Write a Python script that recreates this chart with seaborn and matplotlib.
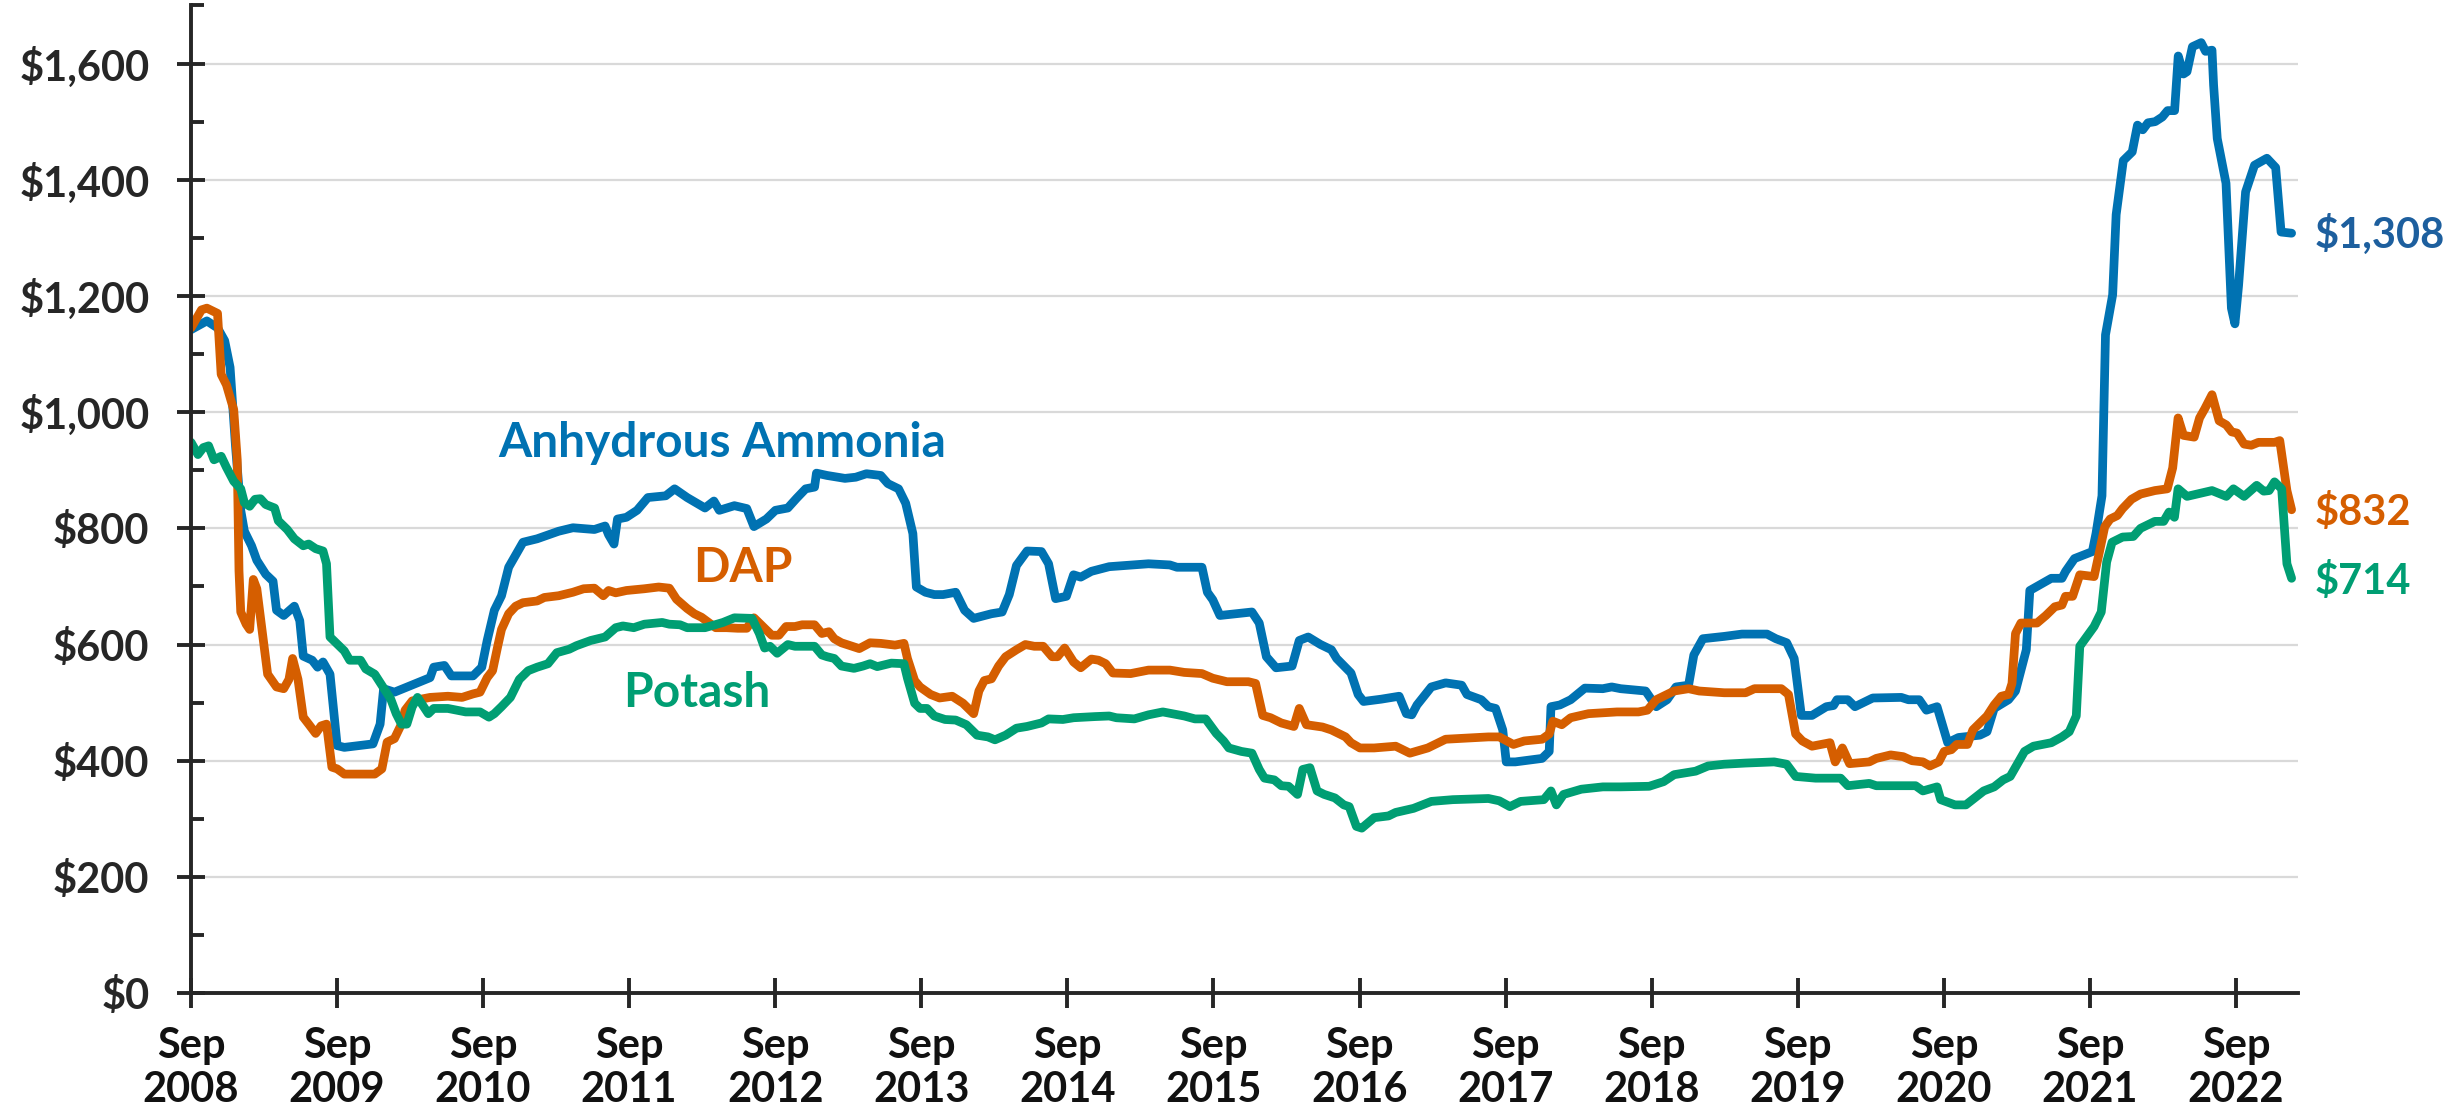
import numpy as np
import pandas as pd
import matplotlib
matplotlib.use("Agg")
import matplotlib.pyplot as plt
import seaborn as sns
from matplotlib.ticker import FuncFormatter, MultipleLocator

# ---------------- data (years after Sep 2008, $/ton) ----------------
amm_t = [0.0, 0.108, 0.181, 0.230, 0.267, 0.304, 0.340, 0.365, 0.414, 0.450, 0.511, 0.561, 0.585, 0.634,
         0.707, 0.744, 0.768, 0.829, 0.866, 0.903, 0.951, 1.000, 1.049, 1.245, 1.294, 1.318, 1.392, 1.538,
         1.636, 1.661, 1.734, 1.782, 1.930, 1.990, 2.027, 2.076, 2.125, 2.174, 2.272, 2.369, 2.516, 2.614,
         2.761, 2.834, 2.858, 2.895, 2.919, 2.980, 3.053, 3.127, 3.249, 3.310, 3.396, 3.518, 3.579, 3.616,
         3.719, 3.804, 3.853, 3.938, 4.000, 4.085, 4.146, 4.207, 4.268, 4.281, 4.354, 4.476, 4.550, 4.623,
         4.721, 4.770, 4.843, 4.892, 4.941, 4.965, 5.027, 5.088, 5.148, 5.234, 5.295, 5.357, 5.479, 5.552,
         5.601, 5.650, 5.723, 5.821, 5.870, 5.918, 5.992, 6.041, 6.090, 6.163, 6.285, 6.554, 6.700, 6.749,
         6.920, 6.957, 6.994, 7.043, 7.262, 7.312, 7.361, 7.427, 7.537, 7.586, 7.647, 7.732, 7.806, 7.842,
         7.940, 7.989, 8.026, 8.148, 8.270, 8.319, 8.356, 8.392, 8.490, 8.588, 8.698, 8.734, 8.832, 8.881,
         8.930, 8.979, 9.003, 9.065, 9.248, 9.297, 9.309, 9.370, 9.444, 9.541, 9.664, 9.725, 9.786, 9.957,
         10.030, 10.104, 10.165, 10.251, 10.287, 10.349, 10.495, 10.617, 10.788, 10.849, 10.923, 10.974,
         11.023, 11.096, 11.194, 11.243, 11.267, 11.341, 11.390, 11.512, 11.707, 11.756, 11.830, 11.879,
         11.952, 12.025, 12.099, 12.245, 12.294, 12.343, 12.441, 12.489, 12.563, 12.587, 12.636, 12.734,
         12.807, 12.832, 12.893, 13.015, 13.040, 13.081, 13.105, 13.154, 13.178, 13.227, 13.288, 13.324,
         13.360, 13.396, 13.445, 13.494, 13.530, 13.578, 13.603, 13.639, 13.663, 13.700, 13.760, 13.790,
         13.834, 13.845, 13.870, 13.930, 13.967, 13.991, 14.016, 14.064, 14.125, 14.210, 14.270, 14.307,
         14.379]
amm_v = [1142, 1157, 1145, 1123, 1077, 942, 831, 795, 770, 745, 721, 709, 659, 650,
         666, 641, 580, 573, 561, 570, 549, 426, 423, 429, 463, 524, 518, 533,
         543, 561, 564, 546, 546, 561, 607, 659, 684, 733, 776, 782, 795, 801,
         798, 804, 789, 773, 816, 819, 831, 853, 856, 868, 853, 835, 847, 831,
         839, 834, 803, 816, 831, 835, 852, 868, 871, 895, 891, 886, 888, 894,
         891, 877, 868, 843, 791, 699, 690, 686, 686, 690, 659, 645, 653, 656,
         686, 736, 761, 760, 739, 679, 683, 720, 716, 726, 734, 739, 737, 733,
         733, 690, 677, 650, 656, 637, 579, 560, 563, 607, 613, 600, 591, 576,
         551, 514, 502, 506, 511, 481, 479, 496, 527, 534, 530, 514, 505, 493,
         490, 453, 398, 398, 404, 416, 493, 496, 505, 525, 524, 527, 524, 520,
         493, 505, 527, 530, 582, 610, 614, 618, 618, 610, 603, 576,
         478, 478, 493, 495, 505, 505, 493, 508, 509, 505, 505, 487,
         493, 431, 440, 444, 450, 490, 505, 520, 591, 693, 700, 714,
         714, 726, 748, 760, 791, 856, 1133, 1202, 1340, 1433, 1448, 1494,
         1486, 1498, 1500, 1508, 1519, 1519, 1613, 1582, 1586, 1629, 1636, 1621,
         1623, 1563, 1471, 1394, 1179, 1152, 1218, 1379, 1425, 1437, 1421, 1310,
         1308]

dap_t = [0.0, 0.071, 0.108, 0.181, 0.206, 0.242, 0.292, 0.316, 0.328, 0.340, 0.377, 0.401, 0.426, 0.450,
         0.487, 0.524, 0.585, 0.634, 0.670, 0.695, 0.732, 0.768, 0.805, 0.853, 0.890, 0.927, 0.964, 1.000,
         1.049, 1.196, 1.257, 1.306, 1.342, 1.392, 1.440, 1.465, 1.514, 1.636, 1.758, 1.855, 1.930, 1.978,
         2.027, 2.064, 2.100, 2.125, 2.174, 2.222, 2.272, 2.369, 2.418, 2.516, 2.614, 2.687, 2.761, 2.822,
         2.858, 2.907, 2.980, 3.103, 3.201, 3.274, 3.323, 3.396, 3.445, 3.494, 3.591, 3.665, 3.743, 3.804,
         3.853, 3.914, 3.975, 4.024, 4.073, 4.134, 4.183, 4.268, 4.318, 4.366, 4.403, 4.452, 4.574, 4.648,
         4.721, 4.819, 4.880, 4.904, 4.953, 4.990, 5.063, 5.124, 5.210, 5.284, 5.357, 5.393, 5.430, 5.479,
         5.528, 5.576, 5.650, 5.711, 5.772, 5.833, 5.894, 5.931, 5.980, 6.041, 6.090, 6.163, 6.212, 6.261,
         6.310, 6.432, 6.554, 6.700, 6.799, 6.920, 6.994, 7.091, 7.238, 7.287, 7.336, 7.390, 7.463, 7.549,
         7.586, 7.635, 7.745, 7.806, 7.903, 7.940, 8.001, 8.099, 8.246, 8.343, 8.466, 8.588, 8.881, 8.955,
         9.052, 9.126, 9.248, 9.297, 9.322, 9.383, 9.444, 9.566, 9.761, 9.908, 9.969, 10.030, 10.152, 10.251,
         10.324, 10.495, 10.641, 10.702, 10.886, 10.935, 10.984, 11.030, 11.096, 11.219, 11.255, 11.304,
         11.353, 11.488, 11.536, 11.634, 11.720, 11.781, 11.855, 11.903, 11.964, 12.001, 12.050, 12.087,
         12.160, 12.197, 12.246, 12.294, 12.343, 12.392, 12.441, 12.465, 12.489, 12.526, 12.636, 12.697,
         12.758, 12.807, 12.831, 12.880, 12.905, 12.929, 13.027, 13.064, 13.100, 13.137, 13.186, 13.222,
         13.283, 13.345, 13.443, 13.528, 13.565, 13.602, 13.639, 13.712, 13.749, 13.785, 13.834, 13.883,
         13.932, 13.969, 14.005, 14.054, 14.103, 14.152, 14.262, 14.298, 14.347, 14.379]
dap_v = [1145, 1176, 1179, 1170, 1065, 1047, 1004, 918, 727, 656, 635, 626, 712, 696,
         623, 549, 527, 524, 540, 576, 540, 475, 463, 447, 460, 463, 389, 386,
         377, 377, 377, 386, 432, 438, 463, 487, 503, 509, 511, 509, 515, 518,
         543, 555, 598, 626, 653, 666, 672, 675, 681, 684, 690, 696, 697, 684,
         693, 689, 693, 696, 699, 697, 678, 662, 653, 647, 629, 629, 628, 628,
         646, 631, 616, 616, 631, 631, 634, 634, 619, 622, 610, 603, 593, 603,
         602, 599, 602, 576, 538, 527, 514, 508, 511, 499, 481, 520, 538, 541,
         563, 579, 591, 600, 597, 597, 579, 579, 594, 570, 560, 575, 573, 567,
         551, 550, 556, 556, 552, 550, 542, 536, 536, 533, 478, 474, 465, 459,
         490, 462, 458, 453, 441, 431, 422, 422, 425, 413, 422, 437, 441, 441,
         428, 434, 437, 446, 468, 462, 474, 481, 484, 484, 487, 505, 520, 524,
         520, 517, 517, 524, 524, 514, 446, 434, 425, 431, 398, 422,
         395, 398, 404, 410, 407, 400, 398, 391, 398, 416, 419, 428,
         428, 453, 465, 477, 496, 511, 514, 533, 619, 637, 637, 650,
         665, 668, 683, 683, 702, 720, 717, 760, 803, 816, 822, 834,
         850, 859, 865, 868, 904, 990, 960, 957, 990, 1006, 1030, 985,
         978, 966, 964, 945, 943, 948, 948, 951, 865, 832]

pot_t = [0.0, 0.047, 0.084, 0.120, 0.157, 0.206, 0.242, 0.292, 0.340, 0.365, 0.401, 0.438, 0.475, 0.511,
         0.572, 0.597, 0.658, 0.707, 0.768, 0.805, 0.853, 0.903, 0.927, 0.951, 1.000, 1.049, 1.086, 1.160,
         1.196, 1.257, 1.306, 1.367, 1.404, 1.440, 1.477, 1.514, 1.550, 1.624, 1.661, 1.758, 1.880, 1.978,
         2.039, 2.076, 2.125, 2.186, 2.247, 2.308, 2.369, 2.443, 2.504, 2.589, 2.638, 2.736, 2.834, 2.907,
         2.956, 3.030, 3.103, 3.225, 3.274, 3.347, 3.396, 3.518, 3.641, 3.719, 3.840, 3.890, 3.926, 3.963,
         4.012, 4.085, 4.134, 4.268, 4.318, 4.354, 4.403, 4.452, 4.538, 4.600, 4.648, 4.697, 4.794, 4.880,
         4.904, 4.953, 4.990, 5.038, 5.088, 5.161, 5.234, 5.307, 5.380, 5.455, 5.503, 5.576, 5.650, 5.723,
         5.821, 5.870, 5.968, 6.041, 6.188, 6.285, 6.334, 6.457, 6.554, 6.652, 6.799, 6.872, 6.945, 7.018,
         7.068, 7.104, 7.190, 7.262, 7.312, 7.348, 7.415, 7.463, 7.513, 7.574, 7.610, 7.659, 7.708, 7.757,
         7.830, 7.891, 7.928, 7.977, 8.014, 8.099, 8.197, 8.246, 8.368, 8.490, 8.637, 8.881, 8.955, 9.028,
         9.101, 9.260, 9.309, 9.346, 9.395, 9.517, 9.664, 9.786, 9.981, 10.080, 10.152, 10.299, 10.385,
         10.495, 10.641, 10.837, 10.922, 10.984, 11.120, 11.292, 11.341, 11.488, 11.536, 11.805, 11.855,
         11.952, 11.977, 12.075, 12.149, 12.271, 12.343, 12.404, 12.453, 12.551, 12.612, 12.734, 12.807,
         12.857, 12.905, 12.929, 13.027, 13.076, 13.113, 13.150, 13.222, 13.295, 13.345, 13.443, 13.503,
         13.540, 13.577, 13.602, 13.663, 13.749, 13.834, 13.932, 13.981, 14.054, 14.140, 14.188, 14.225,
         14.262, 14.311, 14.347, 14.379]
pot_v = [948, 927, 939, 942, 918, 924, 905, 881, 868, 844, 838, 850, 851, 841,
         835, 813, 798, 782, 770, 773, 765, 761, 739, 613, 601, 589, 573, 573,
         558, 549, 530, 506, 481, 463, 463, 493, 509, 481, 490, 490, 484, 484,
         475, 481, 493, 509, 540, 555, 561, 567, 586, 592, 598, 607, 613, 629,
         632, 629, 635, 638, 635, 634, 629, 629, 638, 646, 645, 619, 594, 597,
         585, 600, 597, 597, 582, 579, 576, 563, 559, 563, 567, 562, 568, 567,
         542, 499, 490, 490, 477, 471, 470, 462, 444, 441, 436, 444, 456, 459,
         465, 472, 471, 474, 476, 477, 474, 472, 479, 484, 477, 472, 472, 447,
         434, 422, 416, 413, 385, 370, 367, 357, 356, 342, 385, 388, 348, 342,
         336, 324, 321, 287, 284, 302, 305, 311, 318, 330, 333, 335, 331, 321,
         330, 333, 348, 324, 342, 351, 355, 355, 356, 364, 376, 382, 391,
         394, 396, 398, 394, 373, 370, 370, 357, 361, 357, 357, 348,
         355, 333, 324, 324, 348, 355, 367, 373, 416, 425, 431, 441,
         450, 477, 597, 631, 656, 742, 776, 785, 786, 800, 812, 812,
         828, 819, 868, 855, 860, 865, 855, 868, 855, 874, 864, 865,
         880, 868, 739, 714]

series_names = ["Anhydrous Ammonia", "DAP", "Potash"]
end_labels = ["$1,308", "$832", "$714"]
year_ticks = list(range(2008, 2023))

# ---------------- styling ----------------
BLUE, ORANGE, GREEN = "#0072B2", "#D55E00", "#009E73"
AXIS = "#262626"
START = pd.Timestamp("2008-09-01")


def to_date(t):
    return START + pd.to_timedelta(np.asarray(t, dtype=float) * 365.25, unit="D")


frames = []
for name, t, v in [(series_names[0], amm_t, amm_v),
                   (series_names[1], dap_t, dap_v),
                   (series_names[2], pot_t, pot_v)]:
    frames.append(pd.DataFrame({"date": to_date(t), "price": v, "product": name}))
df = pd.concat(frames, ignore_index=True)

sns.set_theme(style="white")
plt.rcParams["font.family"] = ["Lato", "DejaVu Sans"]
plt.rcParams["font.weight"] = "bold"

fig = plt.figure(figsize=(24.56, 11.12), dpi=100)
ax = fig.add_axes([0.0778, 0.1069, 0.8577, 0.8882])

sns.lineplot(data=df, x="date", y="price", hue="product",
             palette={series_names[0]: BLUE, series_names[1]: ORANGE, series_names[2]: GREEN},
             hue_order=series_names, estimator=None, linewidth=6.3, legend=False, ax=ax,
             solid_capstyle="round", solid_joinstyle="round")

ax.set_ylim(0, 1700)
ax.set_xlim(START, to_date(14.42))
ax.yaxis.set_major_locator(MultipleLocator(200))
ax.yaxis.set_minor_locator(MultipleLocator(100))
ax.yaxis.set_major_formatter(FuncFormatter(lambda x, p: f"${x:,.0f}"))

xt = [pd.Timestamp(f"{y}-09-01") for y in year_ticks]
ax.set_xticks(xt)
ax.set_xticklabels([f"Sep\n{y}" for y in year_ticks])
ax.xaxis.set_minor_locator(plt.NullLocator())

ax.set_xlabel("")
ax.set_ylabel("")
ax.grid(False)
ax.yaxis.grid(True, which="major", color="#D9D9D9", linewidth=1.6)
ax.set_axisbelow(True)

for s in ["top", "right"]:
    ax.spines[s].set_visible(False)
for s in ["left", "bottom"]:
    ax.spines[s].set_color(AXIS)
    ax.spines[s].set_linewidth(2.8)

ax.tick_params(axis="y", which="major", direction="inout", length=20, width=2.8,
               color=AXIS, pad=20, labelsize=30, labelcolor=AXIS, left=True)
ax.tick_params(axis="y", which="minor", direction="in", length=9, width=2.8,
               color=AXIS, left=True)
ax.tick_params(axis="x", which="major", direction="inout", length=21, width=2.8,
               color=AXIS, pad=14, labelsize=30, labelcolor="#111111", bottom=True)
for lab in ax.get_xticklabels() + ax.get_yticklabels():
    lab.set_fontweight("bold")

# series labels
ax.text(to_date(3.634), 923, series_names[0], color=BLUE, fontsize=34.5,
        fontweight="bold", ha="center", va="baseline")
ax.text(to_date(3.775), 708, series_names[1], color=ORANGE, fontsize=34.5,
        fontweight="bold", ha="center", va="baseline")
ax.text(to_date(3.459), 493, series_names[2], color=GREEN, fontsize=34.5,
        fontweight="bold", ha="center", va="baseline")

# end labels
ax.text(to_date(14.538), 1283, end_labels[0], color="#1D5F9E", fontsize=30,
        fontweight="bold", ha="left", va="baseline", clip_on=False)
ax.text(to_date(14.538), 806, end_labels[1], color=ORANGE, fontsize=30,
        fontweight="bold", ha="left", va="baseline", clip_on=False)
ax.text(to_date(14.538), 687, end_labels[2], color=GREEN, fontsize=30,
        fontweight="bold", ha="left", va="baseline", clip_on=False)

fig.savefig("out.png", dpi=100)
